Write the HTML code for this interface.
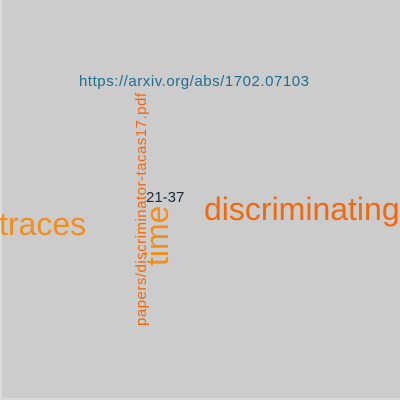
<!DOCTYPE html>
<html><head><meta charset="utf-8"><style>
html,body{margin:0;padding:0}
#cloud{position:relative;width:400px;height:400px;background:#cccccc;overflow:hidden;font-family:"Liberation Sans",Arial,sans-serif}
</style></head><body>
<div id="cloud">
<svg width="400" height="400" style="position:absolute;left:0;top:0" font-family="Liberation Sans, Arial, sans-serif">
<rect x="0" y="0" width="2" height="400" fill="#dcdcdc"/>
<rect x="0" y="398" width="400" height="2" fill="#d8d8d8"/>
<text x="79" y="86" font-size="15" textLength="230" fill="#1d6e90">https://arxiv.org/abs/1702.07103</text>
<text x="-1" y="235" font-size="32" fill="#f28e1c">traces</text>
<text x="204" y="220" font-size="32" fill="#f0690f">discriminating</text>
<text x="146" y="202" font-size="15" fill="#1c2b3a">21-37</text>
<text transform="translate(168,266) rotate(-90)" font-size="32" fill="#f28e1c">time</text>
<text transform="translate(146,326) rotate(-90)" textLength="233" font-size="15" fill="#f0690f">papers/discriminator-tacas17.pdf</text>
</svg>
</div>
</body></html>
